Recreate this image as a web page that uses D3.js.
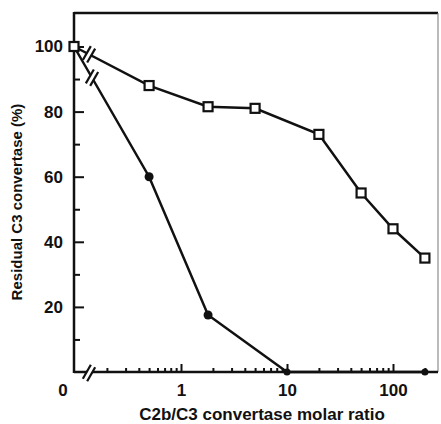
<!DOCTYPE html>
<html>
<head>
<meta charset="utf-8">
<script src="https://cdn.jsdelivr.net/npm/d3@7"></script>
<style>
  body { margin: 0; background: #fff; }
  text { font-family: "Liberation Sans", Arial, sans-serif; fill: #111; }
</style>
</head>
<body>
<div id="container1"></div>
<script>
// data
const sqRatio = [0.5, 1.8, 5, 20, 50, 100, 200];
const sqValue = [88, 81.5, 81, 73, 55, 44, 35];
const dotRatio = [0.5, 1.8, 10, 200];
const dotValue = [60, 17.5, 0, 0];
const startValue = 100;            // both curves start at ratio 0

const xMajor = [1, 10, 100];
const xMinor = [0.2, 0.3, 0.4, 0.5, 0.6, 0.7, 0.8, 0.9,
                2, 3, 4, 5, 6, 7, 8, 9,
                20, 30, 40, 50, 60, 70, 80, 90, 200];
const yMajor = [20, 40, 60, 80, 100];
const yMinor = [10, 30, 50, 70, 90];
const zeroLabel = "0";

const w = 441;
const h = 424;
const padL = 74, padR = 438, padT = 13, padB = 372;
const ink = "#111";

const svg1 = d3.select("#container1")
    .append("svg")
    .attr("width", w)
    .attr("height", h);

const xScale = d3.scaleLog()
    .domain([1, 100])
    .range([181, 393]);

const yScale = d3.scaleLinear()
    .domain([0, 100])
    .range([padB, 46.5]);

const xPos = d => d === 0 ? padL : xScale(d);

// frame
svg1.append("line")
    .attr("x1", padL).attr("x2", padR).attr("y1", padT).attr("y2", padT)
    .attr("stroke", ink).attr("stroke-width", 2.5);
svg1.append("line")
    .attr("x1", padR).attr("x2", padR).attr("y1", padT).attr("y2", padB)
    .attr("stroke", "#777").attr("stroke-width", 1);
svg1.append("line")
    .attr("x1", padL).attr("x2", padL).attr("y1", padT - 1).attr("y2", padB + 1)
    .attr("stroke", ink).attr("stroke-width", 2.5);
svg1.append("line")
    .attr("x1", padL).attr("x2", padR).attr("y1", padB).attr("y2", padB)
    .attr("stroke", ink).attr("stroke-width", 2.5);

// axes
const yAxis = d3.axisLeft(yScale).tickValues(yMajor).tickSize(-10).tickPadding(11);
const yAxisMinor = d3.axisLeft(yScale).tickValues(yMinor).tickSize(-6).tickFormat("");
const xAxis = d3.axisBottom(xScale).tickValues(xMajor).tickSize(-8).tickPadding(12)
    .tickFormat(d3.format("d"));
const xAxisMinor = d3.axisBottom(xScale).tickValues(xMinor).tickSize(-4).tickFormat("");

function styleAxis(g) {
    g.select(".domain").remove();
    g.selectAll("line").attr("stroke", ink).attr("stroke-width", 2);
    g.selectAll("text").attr("font-size", 17).attr("font-weight", "bold")
        .attr("font-family", "Liberation Sans, Arial, sans-serif").attr("fill", ink);
}

svg1.append("g").attr("transform", `translate(${padL},0)`).call(yAxis).call(styleAxis);
svg1.append("g").attr("transform", `translate(${padL},0)`).call(yAxisMinor).call(styleAxis);
svg1.append("g").attr("transform", `translate(0,${padB})`).call(xAxis).call(styleAxis);
svg1.append("g").attr("transform", `translate(0,${padB})`).call(xAxisMinor).call(styleAxis);

svg1.append("text")
    .attr("x", 63).attr("y", padB + 12)
    .attr("dy", "0.71em")
    .attr("text-anchor", "middle")
    .attr("font-size", 17)
    .attr("font-weight", "bold")
    .text(zeroLabel);

// axis titles
svg1.append("text")
    .attr("transform", "translate(22,202) rotate(-90)")
    .attr("text-anchor", "middle")
    .attr("font-size", 15)
    .attr("font-weight", "bold")
    .text("Residual C3 convertase (%)");

svg1.append("text")
    .attr("x", 262).attr("y", 420)
    .attr("text-anchor", "middle")
    .attr("font-size", 17)
    .attr("font-weight", "bold")
    .text("C2b/C3 convertase molar ratio");

// curves
const line = d3.line().x(d => xPos(d[0])).y(d => yScale(d[1]));
const sqData = [[0, startValue]].concat(sqRatio.map((r, i) => [r, sqValue[i]]));
const dotData = [[0, startValue]].concat(dotRatio.map((r, i) => [r, dotValue[i]]));

svg1.append("path").datum(sqData).attr("d", line)
    .attr("fill", "none").attr("stroke", ink).attr("stroke-width", 2.5);
svg1.append("path").datum(dotData).attr("d", line)
    .attr("fill", "none").attr("stroke", ink).attr("stroke-width", 2.5);

// break marks "//"
function breakMark(cx, cy) {
    const g = svg1.append("g").attr("transform", `translate(${cx},${cy}) rotate(-60)`);
    g.append("rect").attr("x", -8).attr("y", -2).attr("width", 16).attr("height", 4).attr("fill", "#fff");
    g.append("line").attr("x1", -8).attr("x2", 8).attr("y1", -2.5).attr("y2", -2.5)
        .attr("stroke", ink).attr("stroke-width", 2.2);
    g.append("line").attr("x1", -8).attr("x2", 8).attr("y1", 2.5).attr("y2", 2.5)
        .attr("stroke", ink).attr("stroke-width", 2.2);
}
function onLine(data, px) {
    const a = data[0], b = data[1];
    const t = (px - xPos(a[0])) / (xPos(b[0]) - xPos(a[0]));
    return yScale(a[1]) + t * (yScale(b[1]) - yScale(a[1]));
}
breakMark(89, onLine(sqData, 89));
breakMark(92, onLine(dotData, 92));
breakMark(89, padB + 1);

// markers
svg1.selectAll("rect.sq")
    .data(sqData)
    .enter()
    .append("rect")
    .attr("class", "sq")
    .attr("x", d => xPos(d[0]) - 4.5)
    .attr("y", d => yScale(d[1]) - 4.5)
    .attr("width", 9)
    .attr("height", 9)
    .attr("fill", "#fff")
    .attr("stroke", ink)
    .attr("stroke-width", 2.2);

svg1.selectAll("circle.dot")
    .data(dotData.slice(1))
    .enter()
    .append("circle")
    .attr("class", "dot")
    .attr("cx", d => xPos(d[0]))
    .attr("cy", d => yScale(d[1]))
    .attr("r", d => d[1] === 0 ? 3.5 : 4.5)
    .attr("fill", ink);
</script>
</body>
</html>
